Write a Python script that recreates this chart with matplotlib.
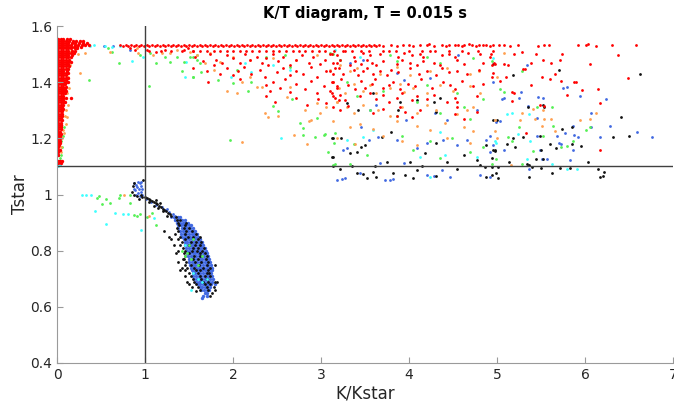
import matplotlib
matplotlib.use('Agg')
import matplotlib.pyplot as plt

# ---- data (K/Kstar, Tstar) ----

# dense red column next to the y axis: (Tstar, [K/Kstar values])
red_column = [
    (1.555, [0.01, 0.04, 0.07, 0.11, 0.15]),
    (1.548, [0.01, 0.04, 0.07, 0.10, 0.14, 0.18, 0.22, 0.26, 0.30]),
    (1.541, [0.01, 0.04, 0.07, 0.10, 0.13, 0.17, 0.21, 0.25, 0.29, 0.34]),
    (1.534, [0.01, 0.04, 0.07, 0.10, 0.13, 0.16, 0.20, 0.24, 0.28, 0.32, 0.36]),
    (1.527, [0.01, 0.04, 0.07, 0.10, 0.13, 0.16, 0.19, 0.23, 0.27]),
    (1.520, [0.01, 0.04, 0.07, 0.10, 0.13, 0.16, 0.20, 0.23]),
    (1.512, [0.01, 0.04, 0.07, 0.10, 0.13, 0.17, 0.21]),
    (1.504, [0.01, 0.04, 0.07, 0.10, 0.13, 0.16, 0.19]),
    (1.496, [0.01, 0.04, 0.07, 0.10, 0.13, 0.17]),
    (1.488, [0.01, 0.04, 0.07, 0.10, 0.13, 0.16]),
    (1.480, [0.01, 0.04, 0.07, 0.10, 0.14]),
    (1.472, [0.01, 0.04, 0.07, 0.10, 0.13, 0.16]),
    (1.464, [0.01, 0.04, 0.07, 0.10, 0.13]),
    (1.456, [0.01, 0.04, 0.07, 0.10, 0.14]),
    (1.448, [0.01, 0.04, 0.07, 0.10, 0.13]),
    (1.440, [0.01, 0.04, 0.07, 0.11]),
    (1.432, [0.01, 0.04, 0.07, 0.10, 0.13]),
    (1.424, [0.01, 0.04, 0.07, 0.10]),
    (1.416, [0.01, 0.04, 0.07, 0.10, 0.12]),
    (1.408, [0.01, 0.04, 0.07, 0.10]),
    (1.400, [0.01, 0.04, 0.07, 0.10, 0.13]),
    (1.392, [0.01, 0.04, 0.07, 0.09]),
    (1.384, [0.01, 0.04, 0.07, 0.10]),
    (1.376, [0.01, 0.04, 0.07, 0.09]),
    (1.368, [0.01, 0.04, 0.07, 0.10]),
    (1.360, [0.01, 0.04, 0.07, 0.09]),
    (1.352, [0.01, 0.04, 0.07]),
    (1.344, [0.01, 0.04, 0.07, 0.10, 0.16]),
    (1.336, [0.01, 0.04, 0.07]),
    (1.328, [0.01, 0.04, 0.07, 0.09]),
    (1.320, [0.01, 0.04, 0.07]),
    (1.312, [0.01, 0.04, 0.06]),
    (1.304, [0.01, 0.04, 0.07]),
    (1.296, [0.01, 0.04, 0.06]),
    (1.288, [0.01, 0.04, 0.06]),
    (1.280, [0.01, 0.04, 0.06]),
    (1.272, [0.01, 0.04]),
    (1.264, [0.01, 0.04, 0.06]),
    (1.256, [0.01, 0.04]),
    (1.248, [0.01, 0.04, 0.05]),
    (1.240, [0.01, 0.04]),
    (1.232, [0.01, 0.04]),
    (1.224, [0.01, 0.03]),
    (1.216, [0.01, 0.04]),
    (1.208, [0.01, 0.03]),
    (1.200, [0.01, 0.03]),
    (1.192, [0.01, 0.03]),
    (1.184, [0.01, 0.03]),
    (1.176, [0.01, 0.02]),
    (1.168, [0.01]),
    (1.160, [0.01, 0.03]),
    (1.150, [0.01]),
    (1.140, [0.01]),
    (1.120, [0.01, 0.03, 0.06]),
    (1.112, [0.01, 0.04]),
]

# red band along Tstar ~ 1.53
red_band = [
    (1.533, [0.72, 0.78, 0.84, 0.90, 0.96, 1.02, 1.08, 1.14, 1.20, 1.26, 1.32, 1.38, 1.44,
             1.50, 1.56, 1.62, 1.68, 1.74, 1.80, 1.86, 1.92, 1.98, 2.04, 2.10, 2.16, 2.22,
             2.28, 2.34, 2.40, 2.46, 2.52, 2.58, 2.64, 2.70, 2.76, 2.82, 2.88, 2.94, 3.00,
             3.06, 3.12, 3.18, 3.24, 3.30, 3.36, 3.42, 3.48, 3.54, 3.60, 3.66]),
    (1.528, [0.75, 0.81, 0.87, 0.93, 0.99, 1.05, 1.11, 1.17, 1.23, 1.29, 1.35, 1.41, 1.47,
             1.53, 1.59, 1.65, 1.71, 1.77, 1.83, 1.89, 1.95, 2.01, 2.07, 2.13, 2.19, 2.25,
             2.31, 2.37, 2.43, 2.49, 2.55, 2.61, 2.67, 2.73, 2.79, 2.85, 2.91, 2.97, 3.03,
             3.09, 3.15, 3.21, 3.27, 3.33, 3.39, 3.45, 3.51, 3.57, 3.63, 3.70]),
    (1.510, [1.05, 1.18, 1.30, 1.42, 1.55, 1.62, 1.70, 1.78, 1.85, 1.93, 2.00, 2.08, 2.15,
             2.22, 2.30, 2.38, 2.45, 2.52, 2.60, 2.68, 2.75, 2.82, 2.90, 2.98, 3.05, 3.15,
             3.25, 3.35, 3.45, 3.55, 3.70, 3.85, 4.00, 4.15, 4.30, 4.45, 4.60, 4.78]),
]

red_pts = [
    (3.80, 1.532), (3.86, 1.530), (3.93, 1.534), (4.00, 1.531), (4.05, 1.529), (4.12, 1.533),
    (4.20, 1.531), (4.23, 1.535), (4.28, 1.530), (4.38, 1.532), (4.42, 1.529), (4.46, 1.533),
    (4.52, 1.531), (4.56, 1.534), (4.60, 1.530), (4.63, 1.532), (4.68, 1.535), (4.72, 1.531),
    (4.76, 1.529), (4.80, 1.533), (4.84, 1.531), (4.88, 1.534), (4.92, 1.530), (4.96, 1.532),
    (5.02, 1.531), (5.08, 1.533), (5.15, 1.530), (5.24, 1.532), (5.47, 1.528), (5.53, 1.533),
    (5.59, 1.534), (5.92, 1.532), (6.01, 1.533), (6.03, 1.535), (6.13, 1.530), (6.31, 1.532),
    (6.58, 1.532),
    (0.83, 1.520), (0.89, 1.515), (1.02, 1.515), (1.13, 1.509), (1.23, 1.515), (1.44, 1.515),
    (1.49, 1.520), (1.55, 1.512),
    (1.57, 1.490), (1.66, 1.475), (1.74, 1.500), (1.81, 1.480), (1.87, 1.470), (1.93, 1.495),
    (2.00, 1.485), (2.08, 1.470), (2.14, 1.500), (2.19, 1.478), (2.27, 1.490), (2.33, 1.468),
    (2.38, 1.485), (2.46, 1.500), (2.51, 1.475), (2.57, 1.490), (2.65, 1.460), (2.72, 1.480),
    (2.78, 1.495), (2.86, 1.470), (2.91, 1.488), (2.99, 1.465), (3.05, 1.480), (3.10, 1.500),
    (3.18, 1.470),
    (1.55, 1.450), (1.70, 1.440), (1.78, 1.460), (1.85, 1.430), (1.93, 1.450), (2.00, 1.425),
    (2.06, 1.440), (2.12, 1.455), (2.21, 1.430), (2.31, 1.445), (2.36, 1.420), (2.40, 1.460),
    (2.50, 1.435), (2.57, 1.450), (2.65, 1.425), (2.72, 1.440), (2.80, 1.430), (2.89, 1.455),
    (2.95, 1.420), (3.06, 1.440), (3.14, 1.430), (3.20, 1.450),
    (1.72, 1.400), (2.08, 1.410), (2.38, 1.390), (2.42, 1.370), (2.46, 1.400), (2.53, 1.380),
    (2.59, 1.410), (2.65, 1.365), (2.72, 1.395), (2.82, 1.375), (2.89, 1.405), (2.95, 1.360),
    (3.03, 1.385), (3.10, 1.370), (3.14, 1.400), (3.18, 1.380),
    (2.38, 1.350), (2.48, 1.330), (2.72, 1.345), (2.84, 1.320), (2.97, 1.340), (3.06, 1.325),
    (3.14, 1.350), (3.20, 1.335),
    (3.12, 1.500), (3.18, 1.495), (3.27, 1.510), (3.37, 1.490), (3.48, 1.505), (3.56, 1.495),
    (3.67, 1.500), (3.77, 1.510), (3.88, 1.490), (3.94, 1.505), (4.03, 1.495), (4.12, 1.500),
    (4.16, 1.490), (4.24, 1.510), (4.37, 1.495), (4.45, 1.500), (4.52, 1.490), (4.67, 1.505),
    (4.81, 1.500), (4.92, 1.490), (4.96, 1.510),
    (3.14, 1.470), (3.22, 1.480), (3.33, 1.460), (3.39, 1.475), (3.46, 1.465), (3.52, 1.480),
    (3.58, 1.470), (3.63, 1.460), (3.71, 1.475), (3.86, 1.465), (3.92, 1.480), (4.01, 1.470),
    (4.09, 1.460), (4.16, 1.475), (4.28, 1.470), (4.35, 1.460), (4.54, 1.480), (4.62, 1.465),
    (4.84, 1.470), (4.94, 1.460),
    (3.10, 1.440), (3.16, 1.450), (3.25, 1.430), (3.37, 1.445), (3.42, 1.425), (3.48, 1.440),
    (3.52, 1.450), (3.59, 1.430), (3.67, 1.440), (3.75, 1.425), (3.80, 1.445), (3.88, 1.435),
    (4.01, 1.450), (4.11, 1.430), (4.20, 1.440), (4.31, 1.425), (4.37, 1.450), (4.45, 1.435),
    (4.54, 1.440), (4.66, 1.430), (4.79, 1.445), (4.94, 1.420),
    (3.12, 1.400), (3.18, 1.385), (3.23, 1.410), (3.31, 1.390), (3.39, 1.375), (3.46, 1.405),
    (3.50, 1.380), (3.58, 1.395), (3.61, 1.410), (3.71, 1.380), (3.77, 1.390), (3.82, 1.400),
    (3.90, 1.375), (3.99, 1.395), (4.07, 1.385), (4.14, 1.410), (4.26, 1.380), (4.39, 1.400),
    (4.47, 1.390), (4.52, 1.375), (4.60, 1.405), (4.73, 1.385), (4.84, 1.395),
    (3.12, 1.360), (3.16, 1.345), (3.22, 1.355), (3.27, 1.335), (3.44, 1.350), (3.56, 1.360),
    (3.63, 1.340), (3.71, 1.355), (3.77, 1.330), (3.86, 1.345), (3.92, 1.360), (4.03, 1.335),
    (4.09, 1.350), (4.20, 1.340), (4.28, 1.355), (4.43, 1.330), (4.52, 1.345), (4.54, 1.330),
    (4.77, 1.350),
    (3.14, 1.310), (3.22, 1.300), (3.31, 1.315), (3.59, 1.290), (3.71, 1.305), (3.86, 1.280),
    (3.90, 1.310), (3.95, 1.295), (4.03, 1.275), (4.12, 1.300), (4.52, 1.285), (4.54, 1.310),
    (4.62, 1.270), (4.77, 1.295),
    (5.19, 1.500), (5.28, 1.508), (5.44, 1.500), (5.74, 1.500), (6.38, 1.497), (4.93, 1.500),
    (4.97, 1.470), (4.98, 1.465), (5.08, 1.463), (5.12, 1.460), (5.39, 1.470), (5.52, 1.480),
    (5.61, 1.470), (5.72, 1.480), (6.06, 1.463), (5.29, 1.447), (5.32, 1.447), (4.96, 1.433),
    (5.10, 1.420), (5.03, 1.405), (5.51, 1.420), (5.60, 1.410), (5.66, 1.430), (5.73, 1.405),
    (5.87, 1.400), (5.90, 1.400), (5.39, 1.390), (5.97, 1.372), (6.15, 1.377), (6.49, 1.415),
    (5.17, 1.365), (5.19, 1.363), (5.80, 1.355), (5.17, 1.333), (5.49, 1.320), (5.53, 1.315),
    (6.17, 1.325), (6.17, 1.158), (5.33, 1.220),
]

orange_pts = [
    (0.32, 1.503), (0.60, 1.509), (0.905, 1.520), (0.92, 1.503), (1.095, 1.497), (1.19, 1.503),
    (1.28, 1.505), (1.36, 1.515), (1.51, 1.509), (1.59, 1.497), (0.26, 1.434), (0.11, 1.277),
    (0.13, 1.48), (0.15, 1.46), (0.12, 1.42), (0.14, 1.38), (0.11, 1.36), (0.12, 1.32),
    (0.10, 1.30), (0.09, 1.28), (0.10, 1.25), (0.07, 1.23), (0.08, 1.22), (0.06, 1.20),
    (0.05, 1.17), (0.04, 1.15), (0.16, 1.51), (0.20, 1.52), (0.24, 1.50),
    (1.68, 1.467), (1.78, 1.443), (1.93, 1.369), (2.04, 1.363), (2.10, 1.400), (2.19, 1.420),
    (2.27, 1.382), (2.33, 1.384), (2.36, 1.289), (2.40, 1.275), (2.51, 1.280), (2.61, 1.348),
    (2.65, 1.384), (2.82, 1.301), (2.86, 1.260), (2.89, 1.265), (2.95, 1.325), (2.99, 1.289),
    (2.69, 1.211), (2.84, 1.179), (3.06, 1.313), (3.18, 1.330), (2.10, 1.187), (1.74, 1.503),
    (1.85, 1.473), (2.00, 1.491), (2.19, 1.479), (2.46, 1.485), (2.72, 1.479), (2.95, 1.497),
    (3.10, 1.443),
    (3.22, 1.46), (3.33, 1.44), (3.41, 1.45), (3.67, 1.43), (3.86, 1.455), (4.01, 1.425),
    (4.24, 1.44), (4.43, 1.45), (4.69, 1.43), (4.79, 1.44),
    (3.14, 1.40), (3.20, 1.38), (3.27, 1.36), (3.37, 1.395), (3.48, 1.37), (3.56, 1.39),
    (3.63, 1.36), (3.78, 1.38), (3.90, 1.395), (3.94, 1.365), (4.05, 1.38), (4.20, 1.36),
    (4.35, 1.39), (4.50, 1.37), (4.69, 1.385), (4.81, 1.36),
    (3.18, 1.33), (3.29, 1.31), (3.37, 1.29), (3.48, 1.32), (3.65, 1.30), (3.78, 1.28),
    (3.92, 1.31), (4.09, 1.29), (4.20, 1.32), (4.31, 1.30), (4.54, 1.285), (4.66, 1.30),
    (4.73, 1.31),
    (3.14, 1.26), (3.33, 1.24), (3.44, 1.25), (3.59, 1.235), (3.86, 1.26), (4.09, 1.245),
    (4.24, 1.23), (4.41, 1.255), (4.62, 1.24), (4.73, 1.225),
    (3.18, 1.20), (3.39, 1.18), (3.71, 1.21), (3.92, 1.19), (4.09, 1.175), (4.43, 1.20),
    (4.69, 1.185),
    (5.08, 1.505), (5.00, 1.42), (5.41, 1.305), (5.52, 1.30), (5.61, 1.27), (5.53, 1.27),
    (5.28, 1.29), (5.26, 1.265), (4.98, 1.265), (5.43, 1.27), (5.51, 1.245), (5.94, 1.265),
    (6.06, 1.27), (6.13, 1.29), (5.66, 1.225), (4.98, 1.225), (5.00, 1.20), (5.16, 1.105),
    (0.76, 0.998), (1.04, 0.924),
]

green_pts = [
    (0.58, 1.520), (0.62, 1.509), (0.94, 1.497), (1.06, 1.503), (1.13, 1.467), (1.23, 1.491),
    (1.28, 1.473), (1.36, 1.491), (1.44, 1.473), (1.51, 1.491), (1.59, 1.479), (1.62, 1.467),
    (0.70, 1.470), (0.36, 1.408), (1.04, 1.386), (1.42, 1.441), (1.55, 1.420),
    (0.06, 1.17), (0.05, 1.19), (0.07, 1.21), (0.04, 1.14), (0.03, 1.13), (0.08, 1.24),
    (0.12, 1.45), (0.10, 1.50),
    (1.55, 1.420), (1.64, 1.437), (1.83, 1.408), (1.97, 1.194), (2.00, 1.398), (2.04, 1.443),
    (2.17, 1.369), (2.21, 1.402), (2.46, 1.315), (2.51, 1.298), (2.67, 1.340), (2.76, 1.253),
    (2.80, 1.236), (2.80, 1.212), (2.93, 1.206), (2.95, 1.271), (3.03, 1.212), (3.05, 1.216),
    (3.08, 1.153), (3.14, 1.105), (3.15, 1.182), (1.54, 1.491), (1.59, 1.497), (2.38, 1.491),
    (2.65, 1.455), (2.59, 1.497), (3.10, 1.503),
    (3.14, 1.50), (3.22, 1.48), (3.78, 1.495), (3.86, 1.475), (4.20, 1.49), (4.35, 1.47),
    (4.73, 1.485), (4.94, 1.475),
    (3.29, 1.40), (3.41, 1.35), (3.56, 1.30), (3.71, 1.37), (3.86, 1.28), (4.09, 1.33),
    (4.20, 1.39), (4.35, 1.29), (4.54, 1.36), (4.62, 1.31), (4.69, 1.27), (4.84, 1.34),
    (3.16, 1.22), (3.37, 1.18), (3.52, 1.14), (3.92, 1.21), (4.05, 1.16), (4.24, 1.19),
    (4.35, 1.13), (4.49, 1.20), (4.69, 1.15), (4.84, 1.17), (4.99, 1.125), (3.16, 1.11),
    (3.33, 1.108),
    (5.03, 1.375), (5.08, 1.365), (5.28, 1.44), (5.45, 1.31), (5.62, 1.31), (5.64, 1.245),
    (6.06, 1.24), (6.01, 1.23), (5.25, 1.24), (5.13, 1.205), (5.17, 1.19), (5.52, 1.21),
    (5.73, 1.17), (5.80, 1.172), (5.86, 1.19), (5.41, 1.155), (4.94, 1.11), (5.28, 1.11),
    (0.48, 0.996), (0.45, 0.987), (0.56, 0.984), (0.51, 0.965), (0.60, 0.969), (0.70, 0.989),
    (0.72, 0.998), (0.83, 0.998), (0.83, 0.969), (0.87, 0.927), (0.91, 0.924), (0.94, 0.930),
    (1.08, 0.933), (1.13, 0.892), (1.02, 0.920),
    (1.42, 0.80), (1.45, 0.78), (1.48, 0.79), (1.55, 0.84), (1.60, 0.75), (1.50, 0.82),
    (1.65, 0.78), (1.52, 0.77),
]

cyan_pts = [
    (0.42, 1.532), (0.85, 1.477), (0.98, 1.491), (1.47, 1.473), (1.45, 1.420), (0.30, 1.540),
    (0.62, 1.525), (0.72, 1.530), (0.38, 1.530), (0.55, 1.530), (2.55, 1.200),
    (2.14, 1.467), (1.98, 1.420), (2.21, 1.437), (2.46, 1.461), (3.16, 1.515), (2.65, 1.443),
    (3.22, 1.479), (3.44, 1.491), (3.29, 1.194), (3.48, 1.206), (3.59, 1.230), (4.12, 1.135),
    (4.41, 1.141), (4.35, 1.224), (4.77, 1.135), (4.24, 1.064), (4.99, 1.182),
    (4.95, 1.485), (5.11, 1.285), (5.17, 1.290), (5.36, 1.285), (5.24, 1.215), (4.98, 1.190),
    (5.38, 1.190), (5.34, 1.127), (5.62, 1.110), (5.80, 1.092), (5.91, 1.092),
    (0.01, 1.100), (0.03, 1.105),
    (0.28, 0.998), (0.33, 0.998), (0.39, 0.998), (0.43, 0.943), (0.56, 0.895), (0.66, 0.933),
    (0.75, 0.930), (0.81, 0.930), (0.96, 0.874), (1.10, 0.915),
    (1.55, 0.72), (1.60, 0.70), (1.65, 0.69), (1.52, 0.66), (1.70, 0.70), (1.45, 0.82),
]

blue_pts = [
    (0.53, 1.529), (0.64, 1.529), (0.83, 1.515),
    (3.33, 1.467), (3.48, 1.479), (3.86, 1.432), (3.94, 1.408), (4.24, 1.414), (4.56, 1.497),
    (4.77, 1.301), (4.43, 1.265), (4.30, 1.289), (3.56, 1.301), (3.63, 1.319), (3.97, 1.265),
    (3.46, 1.242), (3.29, 1.164), (3.25, 1.158), (3.54, 1.194), (3.65, 1.206), (3.86, 1.194),
    (4.09, 1.164), (4.20, 1.182), (4.39, 1.194), (4.54, 1.176), (4.66, 1.194), (4.88, 1.194),
    (4.96, 1.176), (4.92, 1.152), (3.67, 1.111), (3.44, 1.075), (3.27, 1.058), (4.20, 1.070),
    (4.28, 1.066), (4.37, 1.087), (4.47, 1.063), (4.81, 1.070), (4.92, 1.063), (3.94, 1.111),
    (3.18, 1.052), (3.24, 1.055), (3.73, 1.050), (3.78, 1.050), (3.82, 1.055),
    (4.95, 1.402), (5.34, 1.460), (5.27, 1.366), (5.08, 1.343), (5.06, 1.340), (5.25, 1.343),
    (5.47, 1.348), (5.52, 1.343), (5.75, 1.380), (5.80, 1.382), (5.94, 1.350), (6.24, 1.340),
    (5.35, 1.315), (6.07, 1.290), (5.45, 1.272), (5.03, 1.262), (4.99, 1.258), (6.28, 1.245),
    (5.86, 1.245), (6.07, 1.240), (6.59, 1.224), (6.76, 1.205), (5.45, 1.210), (5.68, 1.210),
    (5.77, 1.220), (5.88, 1.212), (6.17, 1.205), (5.08, 1.160), (5.49, 1.160), (5.70, 1.185),
    (5.73, 1.180), (5.86, 1.160), (5.92, 1.205), (5.51, 1.127), (5.57, 1.125), (5.83, 1.122),
    (5.36, 1.090), (4.92, 1.210),
    (0.88, 1.040), (0.90, 1.035), (0.92, 1.045), (0.94, 1.040), (0.91, 1.025), (0.93, 1.020),
    (0.95, 1.030), (0.89, 1.015), (0.92, 1.005), (0.95, 1.010), (0.97, 1.020), (0.90, 1.000),
    (0.94, 0.995), (0.97, 1.000), (0.87, 1.020), (0.96, 1.045),
    (1.01, 0.985), (1.07, 0.975), (1.13, 0.962), (1.19, 0.955), (1.23, 0.945), (1.27, 0.938),
    (1.29, 0.920), (1.32, 0.930), (1.34, 0.925), (1.25, 0.950),
]

black_pts = [
    (3.29, 1.325), (3.42, 1.301), (3.59, 1.360), (3.90, 1.331), (3.88, 1.301), (4.09, 1.337),
    (4.28, 1.331), (4.35, 1.343), (4.31, 1.295), (4.96, 1.265), (3.14, 1.200), (3.23, 1.200),
    (3.33, 1.147), (3.46, 1.170), (3.50, 1.176), (3.41, 1.153), (3.69, 1.206), (3.80, 1.224),
    (3.75, 1.117), (4.01, 1.117), (4.18, 1.147), (4.31, 1.182), (4.43, 1.117), (4.62, 1.141),
    (4.77, 1.123), (4.88, 1.176), (4.98, 1.158), (3.14, 1.135), (3.41, 1.075), (3.48, 1.073),
    (3.59, 1.081), (3.61, 1.100), (3.82, 1.075), (3.95, 1.070), (4.09, 1.087), (4.31, 1.066),
    (3.63, 1.063), (4.81, 1.105), (4.86, 1.099), (4.88, 1.063), (4.99, 1.075), (3.22, 1.090),
    (3.52, 1.060), (4.05, 1.060), (4.15, 1.100), (4.55, 1.090), (3.35, 1.100),
    (3.13, 1.202), (3.13, 1.135), (3.14, 1.100),
    (4.95, 1.464), (5.18, 1.425), (5.70, 1.445), (5.52, 1.320), (5.53, 1.310), (5.35, 1.310),
    (5.00, 1.265), (6.41, 1.277), (5.85, 1.240), (5.74, 1.235), (5.49, 1.210), (5.30, 1.205),
    (5.18, 1.200), (6.32, 1.205), (6.50, 1.210), (5.11, 1.180), (5.20, 1.170), (5.60, 1.180),
    (5.50, 1.160), (5.67, 1.167), (5.95, 1.172), (5.85, 1.180), (4.95, 1.160), (4.98, 1.155),
    (4.94, 1.130), (5.44, 1.125), (5.52, 1.125), (5.14, 1.115), (5.34, 1.110), (5.36, 1.105),
    (6.03, 1.115), (4.94, 1.098), (5.01, 1.098), (5.40, 1.098), (5.50, 1.095), (5.72, 1.095),
    (5.83, 1.095), (6.15, 1.090), (6.22, 1.080), (6.20, 1.065), (6.17, 1.063), (4.94, 1.070),
    (5.01, 1.060), (5.62, 1.075), (5.36, 1.062), (6.62, 1.430),
    (0.01, 1.140), (0.02, 1.120),
    (0.85, 1.010), (0.86, 1.030), (0.88, 1.000), (0.91, 0.995), (0.98, 1.050), (0.95, 1.000),
    (0.97, 0.990), (0.93, 0.985), (0.87, 1.040),
    (1.00, 0.990), (1.02, 0.988), (1.04, 0.985), (1.06, 0.980), (1.08, 0.978), (1.10, 0.972),
    (1.12, 0.970), (1.14, 0.965), (1.16, 0.960), (1.18, 0.955), (1.20, 0.950), (1.22, 0.946),
    (1.24, 0.940), (1.26, 0.935), (1.28, 0.930), (1.30, 0.925), (1.05, 0.975), (1.10, 0.960),
    (1.15, 0.952), (1.21, 0.940), (1.25, 0.925), (1.17, 0.970), (1.12, 0.980),
    (1.22, 0.870), (1.27, 0.850), (1.30, 0.840), (1.33, 0.820), (1.35, 0.790), (1.38, 0.760),
    (1.42, 0.740), (1.40, 0.730), (1.45, 0.710), (1.48, 0.690), (1.50, 0.680), (1.53, 0.670),
    (1.44, 0.770), (1.37, 0.800), (1.82, 0.690), (1.80, 0.660), (1.79, 0.750), (1.58, 0.655),
]

# main blue / black blob: (Tstar, [K/Kstar values])
blob_blue = [
    (0.92, [1.33, 1.37, 1.40]),
    (0.91, [1.34, 1.38, 1.42, 1.45]),
    (0.90, [1.36, 1.40, 1.43, 1.46, 1.49]),
    (0.89, [1.37, 1.41, 1.44, 1.47, 1.50, 1.52]),
    (0.88, [1.38, 1.42, 1.45, 1.48, 1.51, 1.54]),
    (0.87, [1.40, 1.43, 1.46, 1.49, 1.52, 1.55, 1.57]),
    (0.86, [1.41, 1.44, 1.47, 1.50, 1.53, 1.56, 1.59]),
    (0.85, [1.42, 1.45, 1.48, 1.51, 1.54, 1.57, 1.60]),
    (0.84, [1.44, 1.47, 1.50, 1.53, 1.56, 1.59, 1.62]),
    (0.83, [1.45, 1.48, 1.51, 1.54, 1.57, 1.60, 1.63, 1.65]),
    (0.82, [1.46, 1.49, 1.52, 1.55, 1.58, 1.61, 1.64, 1.66]),
    (0.81, [1.47, 1.50, 1.53, 1.56, 1.59, 1.62, 1.65, 1.68]),
    (0.80, [1.48, 1.51, 1.54, 1.57, 1.60, 1.63, 1.66, 1.69]),
    (0.79, [1.48, 1.51, 1.54, 1.57, 1.60, 1.63, 1.66, 1.69, 1.71]),
    (0.78, [1.49, 1.52, 1.55, 1.58, 1.61, 1.64, 1.67, 1.70, 1.72]),
    (0.77, [1.50, 1.53, 1.56, 1.59, 1.62, 1.65, 1.68, 1.71, 1.73]),
    (0.76, [1.50, 1.53, 1.56, 1.59, 1.62, 1.65, 1.68, 1.71, 1.74]),
    (0.75, [1.51, 1.54, 1.57, 1.60, 1.63, 1.66, 1.69, 1.72, 1.75]),
    (0.74, [1.52, 1.55, 1.58, 1.61, 1.64, 1.67, 1.70, 1.73, 1.76]),
    (0.73, [1.53, 1.56, 1.59, 1.62, 1.65, 1.68, 1.71, 1.74, 1.76]),
    (0.72, [1.54, 1.57, 1.60, 1.63, 1.66, 1.69, 1.72, 1.75]),
    (0.71, [1.55, 1.58, 1.61, 1.64, 1.67, 1.70, 1.73, 1.76]),
    (0.70, [1.56, 1.59, 1.62, 1.65, 1.68, 1.71, 1.74, 1.77]),
    (0.69, [1.58, 1.61, 1.64, 1.67, 1.70, 1.73, 1.76]),
    (0.68, [1.60, 1.63, 1.66, 1.69, 1.72, 1.75, 1.80]),
    (0.67, [1.62, 1.65, 1.68, 1.71, 1.74]),
    (0.66, [1.64, 1.67, 1.70, 1.73]),
    (0.65, [1.68, 1.71]),
    (0.64, [1.66, 1.70]),
    (0.63, [1.65]),
]

blob_black = [
    (0.92, [1.35]),
    (0.91, [1.36, 1.40]),
    (0.90, [1.38, 1.47]),
    (0.89, [1.39, 1.45]),
    (0.88, [1.36, 1.44, 1.50]),
    (0.87, [1.37, 1.47, 1.53]),
    (0.86, [1.34, 1.45, 1.58]),
    (0.85, [1.40, 1.49, 1.55, 1.62]),
    (0.84, [1.38, 1.46, 1.60]),
    (0.83, [1.42, 1.52, 1.58, 1.64]),
    (0.82, [1.40, 1.50, 1.57, 1.62]),
    (0.81, [1.43, 1.55, 1.60, 1.67]),
    (0.80, [1.45, 1.53, 1.59, 1.65]),
    (0.79, [1.44, 1.50, 1.62, 1.68]),
    (0.78, [1.46, 1.56, 1.63, 1.71]),
    (0.77, [1.43, 1.54, 1.60, 1.69]),
    (0.76, [1.47, 1.57, 1.64, 1.72]),
    (0.75, [1.45, 1.52, 1.61, 1.70]),
    (0.74, [1.48, 1.56, 1.66, 1.74]),
    (0.73, [1.46, 1.58, 1.63, 1.72]),
    (0.72, [1.50, 1.60, 1.70, 1.73]),
    (0.71, [1.52, 1.62, 1.68, 1.74]),
    (0.70, [1.54, 1.64, 1.70]),
    (0.69, [1.56, 1.66, 1.72, 1.79]),
    (0.68, [1.58, 1.68, 1.74]),
    (0.67, [1.60, 1.70, 1.78]),
    (0.66, [1.62, 1.72]),
    (0.65, [1.76]),
    (0.64, [1.74]),
]

x_ticks = [0, 1, 2, 3, 4, 5, 6, 7]
y_ticks = [0.4, 0.6, 0.8, 1.0, 1.2, 1.4, 1.6]
y_tick_labels = ['0.4', '0.6', '0.8', '1', '1.2', '1.4', '1.6']
K_ref = 1.0
T_ref = 1.1


def rows_to_xy(rows):
    xs, ys = [], []
    for y, row in rows:
        for x in row:
            xs.append(x)
            ys.append(y)
    return xs, ys


def pts_to_xy(pts):
    return [p[0] for p in pts], [p[1] for p in pts]


fig = plt.figure(figsize=(6.74, 4.03), dpi=100)
ax = fig.add_axes([57 / 674, 1 - 363 / 403, 616 / 674, 337 / 403])

ms = 4        # scattered points
ms_dense = 6  # dense clusters (blob, red column)

bx, by = pts_to_xy(blue_pts)
ax.scatter(bx, by, s=ms, color='#4169e1', linewidths=0)
bbx, bby = rows_to_xy(blob_blue)
ax.scatter(bbx, bby, s=ms_dense, color='#4169e1', linewidths=0)

kx, ky = pts_to_xy(black_pts)
ax.scatter(kx, ky, s=ms, color='#111111', linewidths=0)
kbx, kby = rows_to_xy(blob_black)
ax.scatter(kbx, kby, s=ms, color='#111111', linewidths=0)

cx, cy = pts_to_xy(cyan_pts)
ax.scatter(cx, cy, s=ms, color='#40ffff', linewidths=0)

gx, gy = pts_to_xy(green_pts)
ax.scatter(gx, gy, s=ms, color='#55f055', linewidths=0)

ox, oy = pts_to_xy(orange_pts)
ax.scatter(ox, oy, s=ms, color='#ffa050', linewidths=0)

rx, ry = pts_to_xy(red_pts)
rbx, rby = rows_to_xy(red_band)
ax.scatter(rx + rbx, ry + rby, s=ms, color='#ff0000', linewidths=0)
rcx, rcy = rows_to_xy(red_column)
ax.scatter(rcx, rcy, s=ms_dense, color='#ff0000', linewidths=0)

ax.axvline(K_ref, color='#404040', lw=1)
ax.axhline(T_ref, color='#404040', lw=1)

ax.set_xlim(0, 7)
ax.set_ylim(0.4, 1.6)
ax.set_xticks(x_ticks)
ax.set_yticks(y_ticks)
ax.set_yticklabels(y_tick_labels)
ax.spines['top'].set_visible(False)
ax.spines['right'].set_visible(False)
for s in ['left', 'bottom']:
    ax.spines[s].set_color('#9a9a9a')
ax.tick_params(direction='in', length=4, color='#9a9a9a', labelcolor='#262626', labelsize=10)

ax.set_xlabel('K/Kstar', fontsize=12, color='#262626', labelpad=2)
ax.set_ylabel('Tstar', fontsize=12, color='#262626', labelpad=1)
ax.set_title('K/T diagram, T = 0.015 s', fontsize=10.5, fontweight='bold', pad=6)

fig.savefig('out.png', dpi=100)
